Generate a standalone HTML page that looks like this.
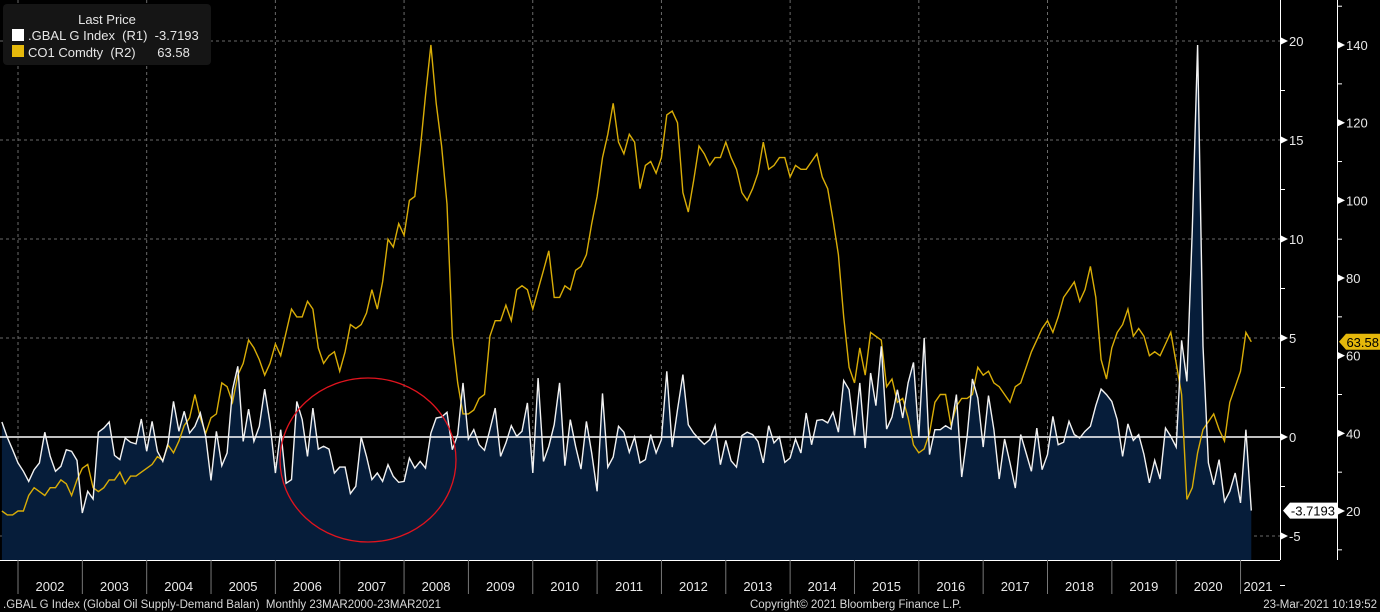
<!DOCTYPE html>
<html><head><meta charset="utf-8">
<style>
body{margin:0;background:#000;width:1380px;height:612px;overflow:hidden;font-family:"Liberation Sans",sans-serif;}
svg{display:block}
text{white-space:pre}
</style></head>
<body>
<svg id="chart" width="1380" height="612" xmlns="http://www.w3.org/2000/svg">
<rect x="0" y="0" width="1380" height="612" fill="#000"/>
<g id="grid"></g>
<g id="series"></g>
<g id="axes"></g>
<ellipse cx="368" cy="460" rx="88" ry="82" fill="none" stroke="#e0141e" stroke-width="1.3"/>
<g>
<rect x="3" y="4" width="208" height="61" rx="4" fill="#151515"/>
<text x="107" y="24" fill="#e6e6e6" font-size="13" text-anchor="middle">Last Price</text>
<rect x="12" y="29" width="12" height="12" fill="#fff"/>
<text x="28" y="40" fill="#e6e6e6" font-size="13" xml:space="preserve">.GBAL G Index  (R1)  -3.7193</text>
<rect x="12" y="45" width="12" height="12" fill="#e5b80b"/>
<text x="28" y="57" fill="#e6e6e6" font-size="13" xml:space="preserve">CO1 Comdty  (R2)      63.58</text>
</g>
<text x="3" y="608" fill="#d8d8d8" font-size="11.5" xml:space="preserve">.GBAL G Index (Global Oil Supply-Demand Balan)  Monthly 23MAR2000-23MAR2021</text>
<text x="750" y="608" fill="#d8d8d8" font-size="11.5">Copyright© 2021 Bloomberg Finance L.P.</text>
<text x="1377" y="608" fill="#d8d8d8" font-size="11.5" text-anchor="end">23-Mar-2021 10:19:52</text>
</svg>
<script>
const startIndex = -3; // months relative to Jan 2002 (Oct 2001)
const years = [2002,2003,2004,2005,2006,2007,2008,2009,2010,2011,2012,2013,2014,2015,2016,2017,2018,2019,2020,2021];
const r1Ticks = [-5,0,5,10,15,20];
const r2Ticks = [20,40,60,80,100,120,140];
const gbal = [
.76,-.02,-.64,
-1.31,-1.73,-2.24,-1.65,-1.31,.24,-.98,-1.73,-1.48,-.64,-.72,-1.18,
-3.84,-2.74,-3.13,.24,.45,.76,-.93,-1.14,-.05,-.27,-.35,.91,
-.72,.79,-.72,-1.23,-.3,1.8,.29,1.3,.2,.54,1.21,.03,
-2.19,.29,-1.45,-.81,2.39,3.57,-.22,1.41,-.22,.54,2.42,.71,
-1.82,.37,-2.34,-2.15,1.8,.88,-.98,1.46,-.61,-.47,-.61,-1.82,
-1.52,-1.52,-2.86,-2.49,0,-.98,-2.15,-1.82,-2.24,-1.4,-1.99,-2.29,
-2.24,-1.06,-1.57,-1.23,-1.57,.2,.96,1.01,1.25,-.64,.12,2.73,
-.1,.37,-.39,-.67,.37,1.46,-.98,-.3,.57,.03,.29,1.72,
-1.82,2.98,-1.23,-.47,.62,2.73,-1.45,.88,-.47,-1.62,.79,-.81,
-2.74,2.2,-1.52,-1.01,.54,.24,-.77,0,-1.31,-1.14,.12,-.81,
-.13,3.32,-.51,1.38,3.15,.62,.2,-.1,-.37,-.13,.57,-1.4,
-.17,-1.2,-1.52,.07,.24,.12,-.22,-1.31,.57,-.3,0,-1.28,
-1.06,-.1,-.81,1.21,-.39,.84,.88,.71,1.25,.24,2.85,2.39,
.07,2.73,-.56,3.23,1.58,4.58,.4,1.01,2.39,.96,2.73,3.77,
.03,5.0,-.89,.37,.37,.57,.4,2.14,-2.02,.03,2.93,1.97,
-.51,2.09,.37,-2.12,-.1,-1.31,-2.58,.12,-.81,-1.73,.45,-1.65,
-.89,1.04,-.39,-.27,.79,.12,-.05,.29,.54,1.58,2.42,2.14,
1.8,.88,-.98,.66,-.17,.12,-.89,-2.32,-1.18,-2.12,.45,.03,
-.51,4.88,2.81,10.5,19.8,4.58,-1.31,-2.41,-1.14,-3.25,-2.74,-1.82,
-3.33,.37,-3.7193];
const brent = [
20,19,19,
20,20,24,26,25,24,26,26,28,27,24,28,
31,32,26,25,26,28,28,30,27,29,29,30,
31,32,34,33,37,35,38,42,44,50,44,40,
44,45,53,52,48,55,58,64,62,59,55,58,
63,60,66,72,70,70,74,72,62,58,60,61,
56,61,68,67,68,71,77,72,79,90,88,94,
91,100,101,113,127,140,125,114,99,65,53,45,
45,46,49,50,65,69,69,73,69,77,78,77,
72,77,82,87,75,75,78,77,82,83,86,94,
101,111,117,125,115,112,117,115,103,109,110,107,
111,122,123,120,102,97,105,114,112,109,111,111,
115,111,108,102,100,103,107,115,108,109,111,111,
106,109,108,108,110,112,106,103,95,86,70,57,
53,62,55,66,65,64,52,54,48,49,44,37,
35,36,40,48,50,50,42,47,49,49,50,57,
55,56,53,52,50,48,52,53,57,61,64,67,
69,66,70,75,77,79,74,77,83,75,59,54,
62,66,68,72,65,67,65,60,61,60,63,66,
58,50,23,26,35,41,43,45,41,38,48,52,
56,66,63.58];

const NS="http://www.w3.org/2000/svg";
const PLOT_R=1280, PLOT_B=560;
const x = i => 18 + (i + startIndex) * 5.362;
const xm = m => 18 + m * 5.362;
const y1 = v => 437 - v * 19.8;
const y2 = v => 511 - (v - 20) * 3.883;
function mk(tag, attrs, parent){const e=document.createElementNS(NS,tag);for(const k in attrs)e.setAttribute(k,attrs[k]);parent.appendChild(e);return e;}
const grid=document.getElementById('grid'), ser=document.getElementById('series'), ax=document.getElementById('axes');

for(let k=0;k<years.length;k+=2){
  const l=mk('line',{x1:xm(k*12),x2:xm(k*12),y1:0,y2:PLOT_B,stroke:'#6a6a6a','stroke-dasharray':'3,3','stroke-width':1},grid);
  
  
}
r1Ticks.forEach(t=>{ if(t===0) return;
  const l=mk('line',{x1:0,x2:PLOT_R,y1:y1(t),y2:y1(t),stroke:'#6a6a6a','stroke-dasharray':'3,3','stroke-width':1},grid);
  
  
});

let d='M'+x(0)+','+PLOT_B;
gbal.forEach((v,i)=>{d+=' L'+x(i).toFixed(1)+','+y1(v).toFixed(1);});
d+=' L'+x(gbal.length-1).toFixed(1)+','+PLOT_B+' Z';
const area=mk('path',{d:d,fill:'#061d3a'},ser);


const zl=mk('line',{x1:0,x2:PLOT_R,y1:y1(0),y2:y1(0),stroke:'#fff','stroke-width':1.4},ser);


const bl=mk('polyline',{points:brent.map((v,i)=>x(i).toFixed(1)+','+y2(v).toFixed(1)).join(' '),fill:'none',stroke:'#d9ad07','stroke-width':1.4},ser);


const gl=mk('polyline',{points:gbal.map((v,i)=>x(i).toFixed(1)+','+y1(v).toFixed(1)).join(' '),fill:'none',stroke:'#f2f2f2','stroke-width':1.4},ser);



mk('line',{x1:PLOT_R+0.5,x2:PLOT_R+0.5,y1:0,y2:PLOT_B,stroke:'#fff','stroke-width':1},ax);
mk('line',{x1:0,x2:PLOT_R,y1:PLOT_B+0.5,y2:PLOT_B+0.5,stroke:'#fff','stroke-width':1},ax);
mk('line',{x1:1337.5,x2:1337.5,y1:0,y2:PLOT_B,stroke:'#fff','stroke-width':1},ax);
for(let v=-7.5;v<=22.5;v+=2.5){ mk('line',{x1:PLOT_R,x2:PLOT_R+5,y1:y1(v),y2:y1(v),stroke:'#fff'},ax); }
r1Ticks.forEach(t=>{
  mk('path',{d:`M${PLOT_R} ${y1(t)-4} L${PLOT_R+8} ${y1(t)} L${PLOT_R} ${y1(t)+4}Z`,fill:'#fff'},ax);
  const tx=mk('text',{x:PLOT_R+9,y:y1(t)+5,fill:'#e8e8e8','font-size':13},ax);
  tx.textContent=t<0?'-'+Math.abs(t):String(t);
  
  
});
for(let v=10;v<=150;v+=10){ mk('line',{x1:1337,x2:1342,y1:y2(v),y2:y2(v),stroke:'#fff'},ax); }
r2Ticks.forEach(t=>{
  mk('path',{d:`M1337 ${y2(t)-4} L1345 ${y2(t)} L1337 ${y2(t)+4}Z`,fill:'#fff'},ax);
  const tx=mk('text',{x:1346,y:y2(t)+5,fill:'#e8e8e8','font-size':13},ax);
  tx.textContent=String(t);
  
  
});
{const v=gbal[gbal.length-1], yy=y1(v);
 mk('path',{d:`M1283 ${yy} L1290 ${yy-8} L1337 ${yy-8} L1337 ${yy+8} L1290 ${yy+8}Z`,fill:'#fff'},ax);
 const t=mk('text',{x:1335,y:yy+5,fill:'#000','font-size':13,'text-anchor':'end'},ax); t.textContent=v.toFixed(4);
 
 }
{const v=brent[brent.length-1], yy=y2(v);
 mk('path',{d:`M1339 ${yy} L1346 ${yy-8} L1380 ${yy-8} L1380 ${yy+8} L1346 ${yy+8}Z`,fill:'#e5b80b'},ax);
 const t=mk('text',{x:1379,y:yy+5,fill:'#000','font-size':13,'text-anchor':'end'},ax); t.textContent=v.toFixed(2);
 
 }
years.forEach((yr,k)=>{
  const xs=xm(k*12);
  mk('line',{x1:xs,x2:xs,y1:PLOT_B,y2:594,stroke:'#777','stroke-width':1},ax);
  const cx=k===years.length-1?1258:xs+32;
  const t=mk('text',{x:cx,y:591,fill:'#e8e8e8','font-size':13,'text-anchor':'middle'},ax);
  t.textContent=String(yr);
  
  
});
</script>
</body></html>
